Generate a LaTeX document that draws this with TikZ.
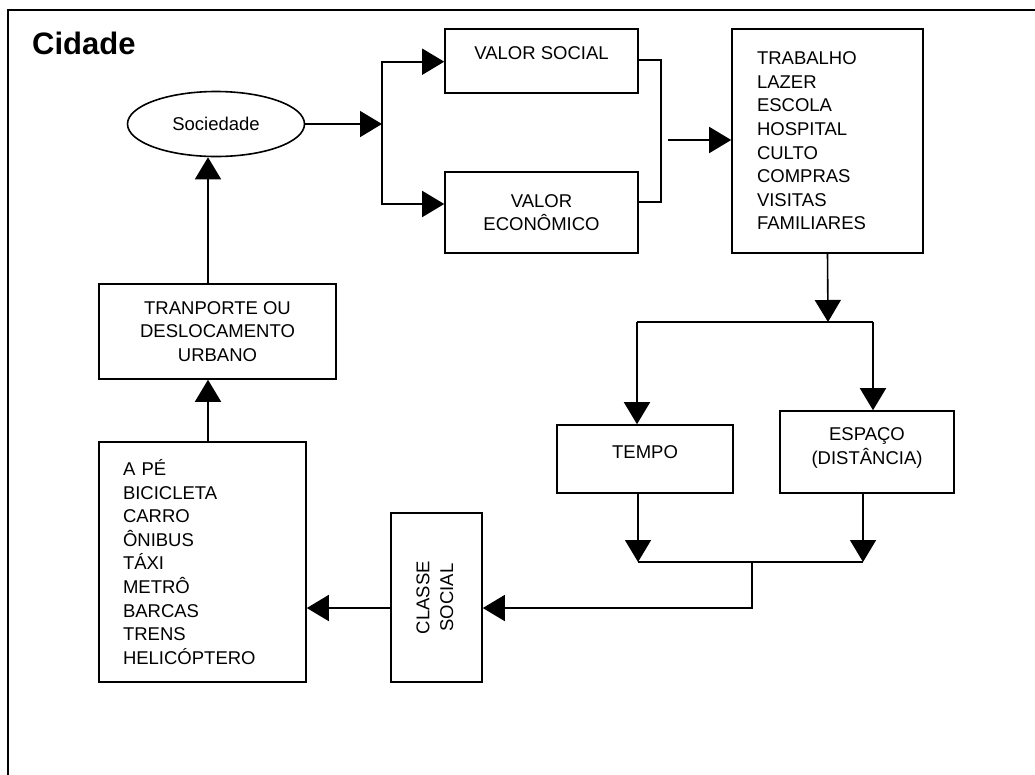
\documentclass[tikz,border=0pt]{standalone}
\usepackage{fontspec}
\setmainfont{Liberation Sans}
\usetikzlibrary{arrows.meta,shapes.geometric}
\newcommand\liftup[2]{\raisebox{#1}[\height][\depth]{#2}}
\tikzset{
  lw/.style={line width=1.6pt},
  box/.style={draw, lw, rectangle, inner sep=0pt, align=center,
    font=\fontsize{18.5}{23.6}\selectfont},
  listbox/.style={draw, lw, rectangle, inner ysep=0pt, align=left,
    font=\fontsize{18.5}{23.6}\selectfont},
  arr/.style={lw, -{Triangle[length=22pt,width=26pt]}},
  conn/.style={lw},
}
\begin{document}
\begin{tikzpicture}[x=1pt,y=-1pt]
\useasboundingbox (0,0) rectangle (1035,774);
% frame
\draw[conn] (8,776) -- (8,10) -- (1037,10);
% title
\node[anchor=base west, inner sep=0pt, font=\fontsize{31}{36}\selectfont\bfseries] (title) at (32,54) {Cidade};
% nodes
\node[draw, lw, ellipse, minimum width=177pt, minimum height=65pt, inner sep=0pt,
  font=\fontsize{18.5}{23.6}\selectfont] (soc) at (216,124) {Sociedade};
\node[box, minimum width=193pt, minimum height=64pt] (vs) at (541.5,61) {\liftup{8pt}{VALOR SOCIAL}};
\node[box, minimum width=193pt, minimum height=81pt] (ve) at (541.5,212.5) {VALOR\\ECONÔMICO};
\node[listbox, inner xsep=25pt, text width=141pt, minimum height=224pt] (trab) at (827.5,141)
  {TRABALHO\\LAZER\\ESCOLA\\HOSPITAL\\CULTO\\COMPRAS\\VISITAS\\FAMILIARES};
\node[box, minimum width=176pt, minimum height=68pt] (tempo) at (645,459) {\liftup{7pt}{TEMPO}};
\node[box, minimum width=174pt, minimum height=82pt] (esp) at (867,452) {\liftup{4pt}{\begin{tabular}{@{}c@{}}ESPAÇO\\(DISTÂNCIA)\end{tabular}}};
\node[box, minimum width=91pt, minimum height=169pt] (cls) at (436.5,597.5)
  {\rotatebox{90}{\begin{tabular}{@{}c@{}}CLASSE\\SOCIAL\end{tabular}}};
\node[listbox, inner xsep=24pt, text width=159pt, minimum height=240pt] (list) at (202.5,562)
  {A PÉ\\BICICLETA\\CARRO\\ÔNIBUS\\TÁXI\\METRÔ\\BARCAS\\TRENS\\HELICÓPTERO};
\node[box, minimum width=237pt, minimum height=95pt] (tran) at (217.5,331.5)
  {TRANPORTE OU\\DESLOCAMENTO\\URBANO};
% junction coordinates
\coordinate (j1) at (382,124);
\coordinate (j2) at (668,140);
\coordinate (j3) at (828,322);
\coordinate (t1) at (637,322);
\coordinate (e1) at (873,322);
\coordinate (b1) at (638,562);
\coordinate (b2) at (863,562);
\coordinate (b3) at (752,562);
\coordinate (b4) at (752,608);
\coordinate (v) at (208,0);
% connectors
\draw[arr] (soc.east) -- (j1);
\draw[arr] (j1) |- ([yshift=-0.7pt]vs.west);
\draw[arr] (j1) |- ([yshift=8.5pt]ve.west);
\draw[conn] ([yshift=1pt]vs.east) -- ++(22,0) |- ([yshift=10.5pt]ve.east);
\draw[arr] (j2) -- (j2 -| trab.west);
\draw[arr] (trab.south) -- (j3);
\draw[conn] (t1) -- (e1);
\draw[arr] (t1) -- (t1 |- tempo.north);
\draw[arr] (e1) -- (e1 |- esp.north);
\draw[arr] (b1 |- tempo.south) -- (b1);
\draw[arr] (b2 |- esp.south) -- (b2);
\draw[conn] (b1) -- (b2);
\draw[arr] (b3) -- (b4) -- (b4 -| cls.east);
\draw[arr] (b4 -| cls.west) -- (b4 -| list.east);
\draw[arr] (v |- list.north) -- (v |- tran.south);
\draw[arr] (v |- tran.north) -- (v |- soc.south);
\end{tikzpicture}
\end{document}
